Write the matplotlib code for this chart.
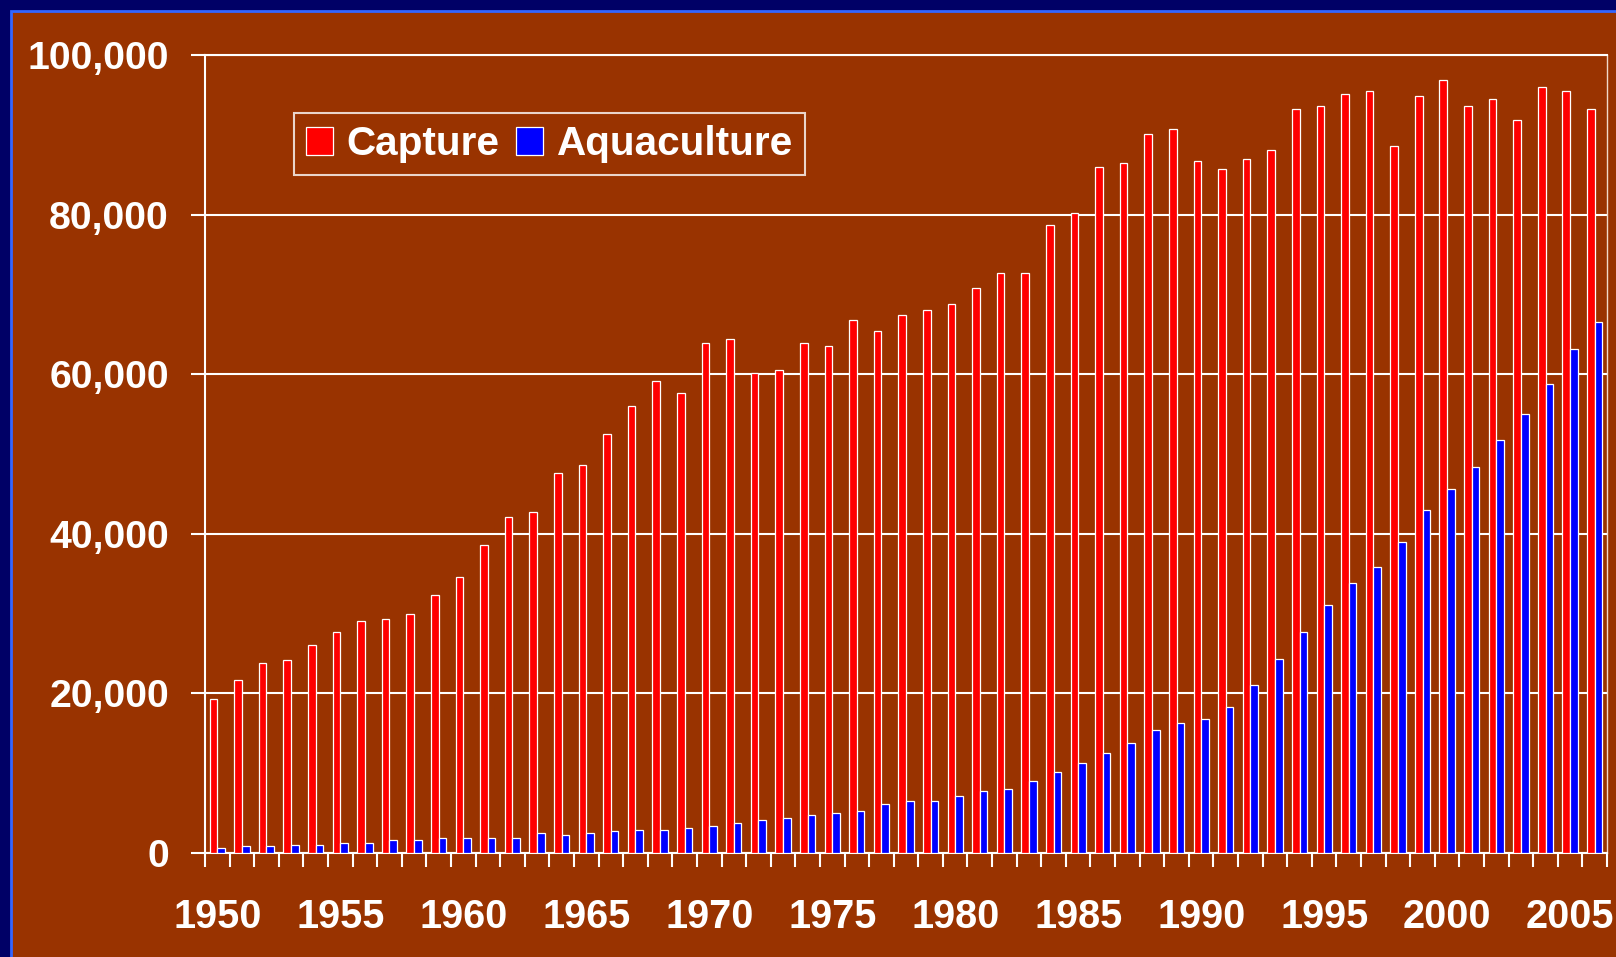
import numpy as np
import matplotlib
matplotlib.use("Agg")
import matplotlib.pyplot as plt
from matplotlib.patches import Rectangle
from matplotlib.ticker import FuncFormatter

# valeurs (milliers de tonnes)
years = list(range(1950, 2007))
capture = [19300, 21650, 23780, 24200, 26120, 27670, 29130, 29340, 30010, 32350,
           34610, 38640, 42080, 42710, 47640, 48670, 52560, 55960, 59190, 57700,
           63970, 64400, 60110, 60480, 63970, 63550, 66770, 65450, 67410, 68000,
           68820, 70770, 72720, 72720, 78680, 80200, 85980, 86470, 90060, 90670,
           86710, 85690, 86970, 88060, 93180, 93630, 95100, 95550, 88630, 94840,
           96830, 93630, 94520, 91900, 95930, 95550, 93180]
aquaculture = [600, 820, 820, 1030, 1030, 1240, 1240, 1680, 1680, 1880,
               1880, 1880, 1880, 2490, 2280, 2490, 2710, 2880, 2900, 3150,
               3330, 3750, 4180, 4390, 4810, 5020, 5230, 6080, 6500, 6570,
               7180, 7790, 8030, 9070, 10160, 11260, 12540, 13750, 15460, 16330,
               16780, 18250, 21070, 24270, 27670, 31120, 33880, 35800, 39000, 43030,
               45600, 48410, 51810, 55070, 58720, 63210, 66600]
series_names = ["Capture", "Aquaculture"]
yticks = [0, 20000, 40000, 60000, 80000, 100000]

plt.rcParams['font.family'] = ['Liberation Sans', 'DejaVu Sans']
plt.rcParams['font.weight'] = 'bold'

W, H = 1616, 957
fig = plt.figure(figsize=(W / 100, H / 100), dpi=100, facecolor='#000066')

# fond brun de la diapositive avec son liseré bleu
fond = Rectangle((11 / W, -0.01), 1.0, 1 + 0.01 - 11 / H, transform=fig.transFigure,
                 facecolor='#993300', edgecolor='#3366ff', linewidth=2, zorder=-1)
fig.add_artist(fond)

ax = fig.add_axes([205 / W, 104 / H, 1402 / W, 798 / H])
ax.set_facecolor('none')

x = np.arange(len(years))
w = 0.31
ax.bar(x - w / 2, capture, w, color='#ff0000', edgecolor='white', linewidth=0.9,
       label=series_names[0], zorder=3)
ax.bar(x + w / 2, aquaculture, w, color='#0000ff', edgecolor='white', linewidth=0.9,
       label=series_names[1], zorder=3)

ax.set_xlim(-0.5, len(years) - 0.5)
ax.set_ylim(0, 100000)
ax.set_yticks(yticks)
ax.yaxis.set_major_formatter(FuncFormatter(lambda v, p: f"{int(v):,}"))
ax.grid(axis='y', color='white', linewidth=1.5, zorder=1)
ax.set_axisbelow(True)

# graduations aux limites de catégories, étiquettes tous les 5 ans
ax.set_xticks(np.arange(len(years) + 1) - 0.5)
ax.set_xticklabels([])
idx = [i for i, yr in enumerate(years) if yr % 5 == 0]
ax.set_xticks(idx, minor=True)
ax.set_xticklabels([str(years[i]) for i in idx], minor=True)
ax.tick_params(axis='x', which='major', length=10, width=1.5, color='white')
ax.tick_params(axis='x', which='minor', length=0, pad=32.5, labelsize=28.5, labelcolor='white')
ax.tick_params(axis='y', length=10, width=1.5, color='white', pad=16,
               labelsize=28.3, labelcolor='white')

for s in ['left', 'bottom', 'top']:
    ax.spines[s].set_color('white')
    ax.spines[s].set_linewidth(1.5)
ax.spines['right'].set_color('#f0d8c8')
ax.spines['right'].set_linewidth(1.0)

leg = ax.legend(loc='upper left', bbox_to_anchor=(294 / W, 1 - 113 / H),
                bbox_transform=fig.transFigure, ncol=2, fontsize=29.2, frameon=True,
                fancybox=False, edgecolor='white', facecolor='none', labelcolor='white',
                handlelength=0.66, handleheight=0.66, handletextpad=0.33,
                columnspacing=0.42, borderpad=0.3, borderaxespad=0)
leg.get_frame().set_linewidth(1.5)

fig.savefig('out.png', dpi=100, facecolor=fig.get_facecolor())
